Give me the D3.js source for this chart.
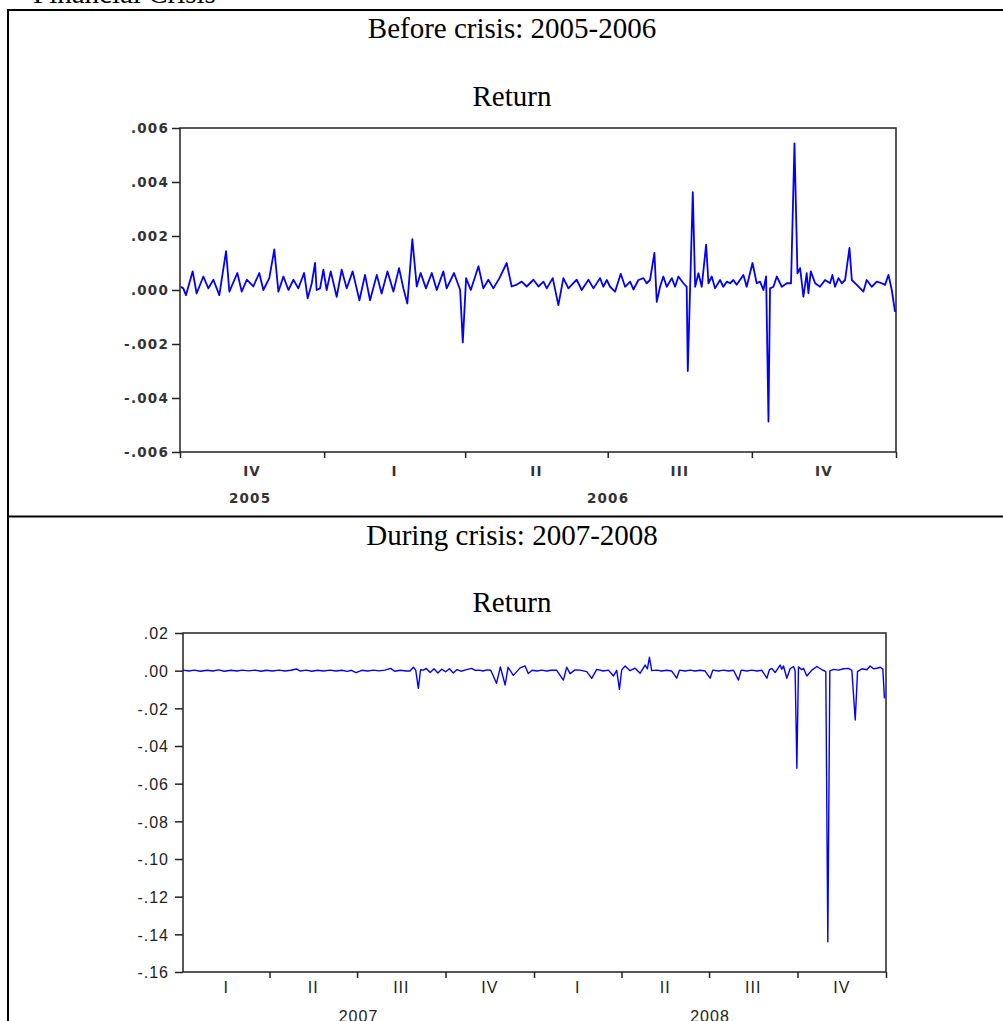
<!DOCTYPE html>
<html><head><meta charset="utf-8">
<script src="https://cdn.jsdelivr.net/npm/d3@7"></script>
<style>body{margin:0;background:#fff}svg{display:block}</style></head>
<body><svg id="c" width="1003" height="1021"></svg>
<script>
// ---------------- DATA ----------------
const pageTitle = "Financial Crisis";
const panelTitles = ["Before crisis: 2005-2006", "During crisis: 2007-2008"];
const seriesName = "Return";
const quarterNames = ["I", "II", "III", "IV"];

// Panel 1: 2005 Q4 - 2006 Q4 (x = days since 2005-10-01)
const beforeStart = "2005-10-01", beforeEnd = "2007-01-01";
const beforeYTicks = [-0.006, -0.004, -0.002, 0, 0.002, 0.004, 0.006];
const beforeYLabels = ["-.006", "-.004", "-.002", ".000", ".002", ".004", ".006"];
const beforeDays = [0.5, 2.1, 3.8, 8.1, 10.6, 14.9, 18.1, 21.3, 25.1, 29.4, 31.5, 36.6, 39.4, 42.6, 46.8, 50.6, 53.2, 57.0, 60.2, 62.8,
  66.0, 69.2, 72.4, 75.5, 79.2, 81.5, 84.1, 86.2, 87.2, 89.4, 91.5, 93.6, 96.2, 100.0, 103.2, 106.4, 110.2, 114.5, 118.1, 121.3,
  125.6, 128.7, 132.4, 136.2, 139.8, 142.6, 145.1, 148.3, 151.1, 153.6, 157.0, 160.7, 163.9, 168.1, 170.2, 174.9, 178.8, 180.5, 182.6, 185.6,
  190.5, 193.6, 196.8, 200.0, 203.9, 208.5, 211.7, 215.0, 218.1, 221.3, 225.6, 228.8, 232.0, 234.1, 237.9, 241.5, 244.7, 247.9, 253.2, 256.4,
  260.7, 263.9, 268.1, 270.2, 272.4, 274.5, 277.7, 281.3, 284.1, 287.3, 289.4, 292.6, 295.8, 297.9, 300.0, 302.8, 304.3, 306.4, 308.5, 310.7,
  313.9, 316.0, 318.1, 321.3, 323.4, 324.1, 327.3, 328.8, 330.9, 333.0, 335.8, 337.3, 339.4, 341.5, 344.7, 346.8, 349.0, 351.1, 353.2, 355.3,
  359.6, 361.7, 365.4, 368.1, 370.2, 372.4, 374.1, 375.6, 376.6, 378.8, 380.9, 384.1, 387.3, 390.0, 392.2, 394.1, 395.8, 397.9, 400.0, 401.1,
  402.6, 405.4, 408.5, 411.7, 414.9, 416.4, 418.1, 420.3, 422.4, 424.5, 427.3, 428.8, 432.0, 436.2, 438.3, 441.5, 444.7, 447.9, 450.0, 452.2,
  454.3, 456.4];
const beforeReturns = [1.2e-4, 0.6e-4, -1.9e-4, 6.9e-4, -1.3e-4, 5.0e-4, 0.6e-4, 3.8e-4, -1.9e-4, 14.4e-4, -0.6e-4, 6.3e-4, -0.6e-4, 3.8e-4, 1.3e-4, 6.3e-4, 0, 4.4e-4, 15.0e-4, -0.6e-4,
  5.0e-4, 0, 3.8e-4, 0.6e-4, 6.3e-4, -3.1e-4, 2.5e-4, 10.0e-4, 0, 0.6e-4, 7.5e-4, 0, 6.9e-4, -2.5e-4, 7.5e-4, 0.6e-4, 6.9e-4, -3.8e-4, 5.6e-4, -3.8e-4,
  5.6e-4, -1.3e-4, 6.9e-4, -0.6e-4, 8.1e-4, 0.6e-4, -5.0e-4, 18.8e-4, 1.3e-4, 6.3e-4, 0.6e-4, 6.3e-4, 0, 6.9e-4, 0.6e-4, 6.3e-4, 0, -19.4e-4, 4.4e-4, 0,
  8.8e-4, 0.6e-4, 3.8e-4, 0.6e-4, 4.4e-4, 10.0e-4, 1.3e-4, 2.0e-4, 3.1e-4, 1.3e-4, 3.8e-4, 1.3e-4, 3.1e-4, 0.6e-4, 4.4e-4, -5.6e-4, 4.4e-4, 0.6e-4, 3.8e-4, 0,
  3.8e-4, 0.6e-4, 4.4e-4, 1.2e-4, 3.7e-4, 1.2e-4, -0.6e-4, 6.0e-4, 1.2e-4, 3.1e-4, 0.2e-4, 3.7e-4, 4.4e-4, 2.5e-4, 3.7e-4, 13.7e-4, -4.4e-4, 1.2e-4, 5.0e-4, 1.2e-4,
  4.4e-4, 1.2e-4, 5.0e-4, 2.5e-4, 1.2e-4, -30.0e-4, 36.2e-4, 1.2e-4, 6.2e-4, 1.2e-4, 16.8e-4, 2.5e-4, 5.0e-4, 0.6e-4, 3.7e-4, 1.2e-4, 3.1e-4, 2.5e-4, 3.7e-4, 1.9e-4,
  5.6e-4, 1.2e-4, 10.0e-4, 2.5e-4, 3.1e-4, 0, 5.0e-4, -48.7e-4, 0.6e-4, 1.2e-4, 5.0e-4, 1.2e-4, 2.5e-4, 2.5e-4, 54.3e-4, 6.2e-4, 8.1e-4, -2.5e-4, 6.2e-4, -1.2e-4,
  6.9e-4, 2.5e-4, 1.2e-4, 3.7e-4, 2.5e-4, 5.6e-4, 1.2e-4, 4.4e-4, 2.5e-4, 3.7e-4, 15.6e-4, 3.7e-4, 1.9e-4, -0.6e-4, 3.7e-4, 1.2e-4, 3.1e-4, 2.5e-4, 1.9e-4, 5.6e-4,
  0, -8.1e-4];

// Panel 2: 2007 - 2008 (x = days since 2007-01-01)
const duringStart = "2007-01-01", duringEnd = "2009-01-01";
const duringYTicks = [-0.16, -0.14, -0.12, -0.10, -0.08, -0.06, -0.04, -0.02, 0, 0.02];
const duringYLabels = ["-.16", "-.14", "-.12", "-.10", "-.08", "-.06", "-.04", "-.02", ".00", ".02"];
const duringDays = [0, 6, 12, 18, 25, 31, 37, 43, 50, 56, 62, 68, 75, 81, 87, 93, 100, 106, 112, 118,
  122, 128, 134, 140, 146, 153, 159, 165, 171, 175, 180, 186, 192, 198, 204, 210, 216, 220, 226, 232,
  236, 239.5, 242, 244.7, 247, 250, 253, 257, 261, 265, 269, 273, 277, 281, 285, 289, 294, 300, 304, 308,
  312, 316, 320, 326, 330, 335, 338, 343.5, 350.5, 355.7, 359, 363, 368, 373, 378, 383, 388.6, 395.5, 399, 402.5,
  407.7, 412.9, 419.8, 425.0, 430.2, 437.2, 442.4, 447.6, 451.0, 453.8, 456.2, 459.7, 464.9, 470.1, 475.3, 480.5, 482.9, 485.0, 487.4, 492.6,
  497.8, 503.0, 508.2, 513.4, 516.2, 522.1, 527.3, 532.5, 537.7, 542.9, 548.1, 550.9, 556.8, 562.0, 567.2, 572.4, 577.6, 580.4, 586.3, 591.5,
  596.7, 601.9, 607.1, 609.8, 612.3, 615.7, 620.9, 622.7, 624.4, 627.9, 631.3, 634.8, 636.5, 638.3, 640.0, 643.5, 645.2, 648.7, 653.9, 659.1,
  664.3, 668.4, 670.5, 672.6, 676.4, 681.6, 686.8, 692.0, 695.5, 699.0, 701.4, 705.9, 711.1, 714.5, 718.0, 721.5, 725.0, 727.7, 729.4];
const duringReturns = [0.0003, -0.0002, 0.0003, -0.0003, 0.0002, -0.0002, 0.0004, -0.0003, 0.0002, -0.0002, 0.0003, -0.0001, 0.0003, -0.0003, 0.0002, -0.0002, 0.0003, -0.0002, 0.0002, 0.0009,
  -0.0002, 0.0003, -0.0003, 0.0002, -0.0002, 0.0003, -0.0002, 0.0002, -0.0004, 0.0002, -0.0010, 0.0002, -0.0002, 0.0003, -0.0001, 0.0003, 0.0012, -0.0003, 0.0002, -0.0002,
  -0.0002, 0.0018, 0.0003, -0.0094, 0.0005, 0.0003, 0.0012, -0.0010, 0.0010, -0.0012, 0.0008, -0.0006, 0.0010, -0.0012, 0.0006, -0.0003, 0.0004, 0.0012, 0.0001, 0.0003,
  -0.0002, 0.0004, 0.0002, -0.0067, 0.0020, -0.0076, 0.0018, -0.0025, 0.0015, 0.0025, -0.0015, 0.0002, -0.0002, 0.0003, -0.0002, 0.0002, 0.0002, -0.0050, 0.0018, -0.0016,
  0.0004, 0.0003, -0.0005, -0.0041, 0.0007, -0.0002, 0.0003, -0.0028, 0.0002, -0.0099, 0.0004, 0.0025, 0.0000, 0.0013, -0.0014, 0.0030, 0.0010, 0.0071, 0.0000, 0.0003,
  -0.0002, 0.0002, -0.0002, -0.0040, 0.0003, -0.0002, 0.0003, -0.0002, 0.0002, -0.0002, -0.0040, 0.0003, -0.0002, 0.0003, -0.0002, 0.0002, -0.0050, 0.0003, -0.0002, 0.0003,
  -0.0002, 0.0002, -0.0040, 0.0005, 0.0012, -0.0010, 0.0030, 0.0008, 0.0025, -0.0040, 0.0010, 0.0022, 0.0000, -0.0518, 0.0020, 0.0005, 0.0013, -0.0028, 0.0003, 0.0022,
  0.0005, -0.0005, -0.1439, -0.0001, 0.0007, 0.0003, 0.0010, 0.0012, 0.0002, -0.0262, -0.0005, 0.0010, 0.0005, 0.0025, 0.0010, 0.0013, 0.0018, 0.0008, -0.0147];

// ---------------- DRAWING ----------------
const svg = d3.select("#c");
const parse = d3.utcParse("%Y-%m-%d");
const DAY = 864e5;

svg.append("text").attr("x", 33).attr("y", 3)
  .style("font-family", "'Liberation Serif', 'Times New Roman', serif").style("font-size", "29px")
  .text(pageTitle);

// table rules
const rule = (x1, y1, x2, y2) => svg.append("line").attr("x1", x1).attr("y1", y1).attr("x2", x2).attr("y2", y2)
  .attr("stroke", "#000").attr("stroke-width", 2);
rule(7, 10, 1003, 10);
rule(8, 9, 8, 1021);
rule(7, 516.5, 1003, 516.5);

function panel(cfg) {
  const t0 = parse(cfg.start), t1 = parse(cfg.end);
  const x = d3.scaleUtc().domain([t0, t1]).range([cfg.left, cfg.right]);
  const y = d3.scaleLinear().domain([cfg.yTicks[0], cfg.yTicks[cfg.yTicks.length - 1]]).range([cfg.bottom, cfg.top]);
  const g = svg.append("g");
  const serif = "'Liberation Serif', 'Times New Roman', serif";

  g.append("text").attr("x", 512).attr("y", cfg.titleY).attr("text-anchor", "middle")
    .style("font-family", serif).style("font-size", "29px").text(cfg.title);
  g.append("text").attr("x", 512).attr("y", cfg.nameY).attr("text-anchor", "middle")
    .style("font-family", serif).style("font-size", "29px").text(seriesName);

  const styleText = sel => sel.style("font-family", cfg.font).style("font-size", cfg.fontSize + "px")
    .style("font-weight", cfg.fontWeight).style("letter-spacing", cfg.spacing + "px").attr("fill", cfg.textColor);

  // y axis
  const ya = g.append("g").attr("transform", `translate(${cfg.left},0)`)
    .call(d3.axisLeft(y).tickValues(cfg.yTicks).tickFormat((d, i) => cfg.yLabels[i]).tickSize(8).tickPadding(cfg.yPad));
  ya.select(".domain").remove();
  ya.selectAll("line").attr("stroke", "#222").attr("stroke-width", 1.5);
  styleText(ya.selectAll("text")).attr("dy", "0.36em");

  // x axis: quarter boundaries
  let qTicks = d3.utcMonth.every(3).range(t0, new Date(+t1 + DAY));
  if (!cfg.leftEndTick) qTicks = qTicks.filter(d => +d !== +t0);
  const xa = g.append("g").attr("transform", `translate(0,${cfg.bottom})`)
    .call(d3.axisBottom(x).tickValues(qTicks).tickFormat("").tickSize(6));
  xa.select(".domain").remove();
  xa.selectAll("line").attr("stroke", "#222").attr("stroke-width", 1.5);

  // frame
  g.append("rect").attr("x", cfg.left).attr("y", cfg.top).attr("width", cfg.right - cfg.left)
    .attr("height", cfg.bottom - cfg.top).attr("fill", "none").attr("stroke", "#222").attr("stroke-width", 1.5);

  // quarter labels
  const quarters = d3.utcMonth.every(3).range(t0, t1);
  quarters.forEach(q => {
    const qe = d3.utcMonth.offset(q, 3);
    styleText(g.append("text")).attr("x", (x(q) + x(qe)) / 2).attr("y", cfg.qLabelY).attr("text-anchor", "middle")
      .text(quarterNames[Math.floor(q.getUTCMonth() / 3)]);
  });
  // year labels
  d3.utcYear.range(d3.utcYear.floor(t0), t1).forEach(yr => {
    const a = Math.max(+yr, +t0), b = Math.min(+d3.utcYear.offset(yr, 1), +t1);
    styleText(g.append("text")).attr("x", (x(new Date(a)) + x(new Date(b))) / 2 + cfg.yearShift).attr("y", cfg.yearLabelY)
      .attr("text-anchor", "middle").text(yr.getUTCFullYear());
  });

  // series line
  const pts = cfg.days.map((d, i) => [new Date(+t0 + d * DAY), cfg.values[i]]);
  g.append("path").datum(pts)
    .attr("d", d3.line().x(d => x(d[0])).y(d => y(d[1])))
    .attr("fill", "none").attr("stroke", "#0000ff").attr("stroke-width", cfg.lineWidth)
    .attr("stroke-linejoin", "round");
}

panel({
  start: beforeStart, end: beforeEnd, days: beforeDays, values: beforeReturns,
  yTicks: beforeYTicks, yLabels: beforeYLabels, title: panelTitles[0],
  left: 180, right: 896, top: 128, bottom: 452, titleY: 38, nameY: 106,
  font: "'DejaVu Sans', Verdana, sans-serif", fontSize: 13.5, fontWeight: "bold", spacing: 1.2, textColor: "#333",
  yPad: 3, qLabelY: 476, yearLabelY: 503, yearShift: -2, leftEndTick: true, lineWidth: 1.8
});
panel({
  start: duringStart, end: duringEnd, days: duringDays, values: duringReturns,
  yTicks: duringYTicks, yLabels: duringYLabels, title: panelTitles[1],
  left: 183, right: 886, top: 633, bottom: 972, titleY: 545, nameY: 612,
  font: "'Liberation Sans', Arial, sans-serif", fontSize: 16, fontWeight: "normal", spacing: 1, textColor: "#222",
  yPad: 6, qLabelY: 993, yearLabelY: 1022, yearShift: 0, leftEndTick: false, lineWidth: 1.4
});
</script>
</body></html>
